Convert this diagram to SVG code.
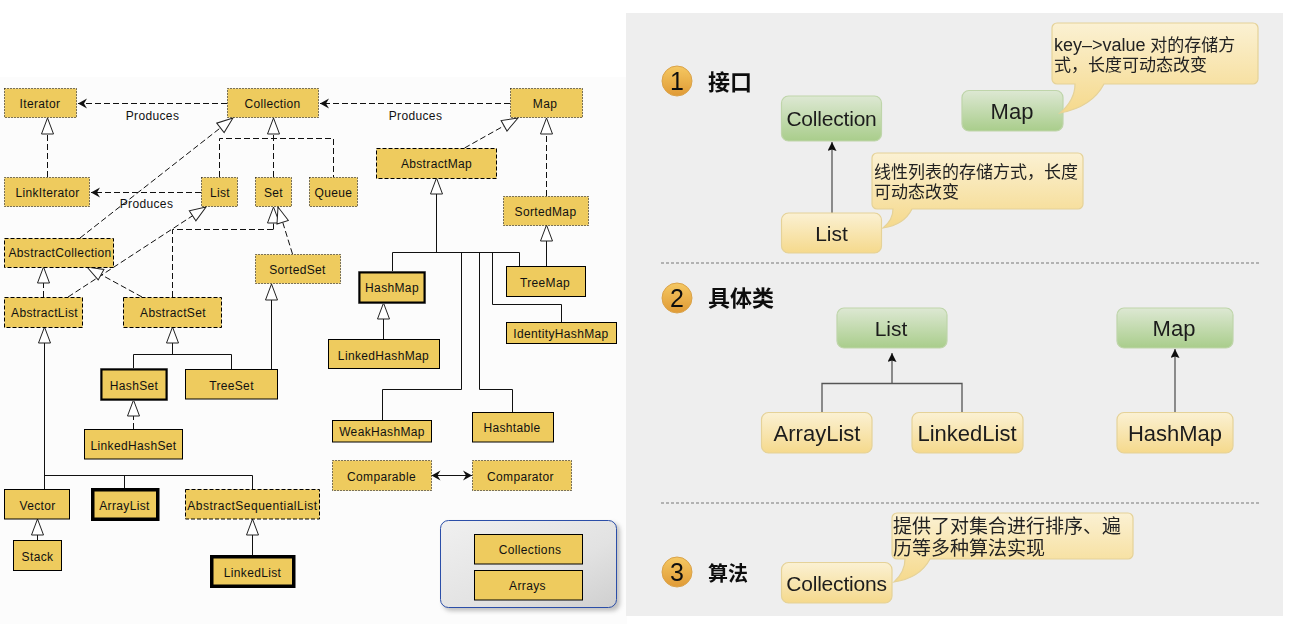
<svg xmlns="http://www.w3.org/2000/svg" width="1294" height="624" viewBox="0 0 1294 624">
<style>
.n{fill:#eecb5e;stroke:#000;stroke-width:1}
.dot{stroke-dasharray:1 2}
.dash{stroke-dasharray:4 2}
.thick2{stroke-width:2}
.thick3{stroke-width:3.5}
.t{font-family:"Liberation Sans",Arial,sans-serif;font-size:12px;letter-spacing:.35px;text-anchor:middle;dominant-baseline:central;fill:#111;transform:translateY(.5px)}
.l{fill:none;stroke:#111;stroke-width:1}
.d{stroke-dasharray:6 3}
.tri{marker-end:url(#tri)}
.open{marker-end:url(#open)}
.g{fill:url(#green);stroke:#bfd5aa;stroke-width:1.2}
.y{fill:url(#yellow);stroke:#e5d298;stroke-width:1.2}
.T{font-family:"Liberation Sans","Noto Sans CJK SC",sans-serif;font-size:21px;text-anchor:middle;dominant-baseline:central;fill:#1c1c1c}
.c{font-family:"Liberation Sans","Noto Sans CJK SC",sans-serif;font-size:17px;dominant-baseline:central;fill:#222}
.h{font-family:"Noto Sans CJK SC",sans-serif;font-size:22px;font-weight:700;dominant-baseline:central;fill:#111}
.num{font-family:"Liberation Sans",sans-serif;font-size:25px;text-anchor:middle;dominant-baseline:central;fill:#111}
.r{fill:none;stroke:#555;stroke-width:1.3}
.sep{stroke:#777;stroke-width:1;stroke-dasharray:3 2}
.circ{fill:url(#orange);stroke:#d9a24a;stroke-width:1}
</style>
<defs>
<marker id="tri" markerUnits="userSpaceOnUse" viewBox="-1 -1 18 14" markerWidth="18" markerHeight="14" refX="16" refY="6" orient="auto"><path d="M16,6 L0,0 L0,12 Z" fill="#fff" stroke="#222" stroke-width="1"/></marker>
<marker id="open" markerUnits="userSpaceOnUse" viewBox="-1 -1 11 12" markerWidth="11" markerHeight="12" refX="9" refY="5" orient="auto-start-reverse"><path d="M9,5 L0,0 L3,5 L0,10 Z" fill="#111"/></marker>
<marker id="small" markerUnits="userSpaceOnUse" viewBox="0 0 9 10" markerWidth="9" markerHeight="10" refX="9" refY="4.5" orient="auto"><path d="M9,4.5 L0,0 L1.5,4.5 L0,9 Z" fill="#111"/></marker>
<linearGradient id="green" x1="0" y1="0" x2="0" y2="1"><stop offset="0" stop-color="#dde8d3"/><stop offset="1" stop-color="#a9cd8b"/></linearGradient>
<linearGradient id="yellow" x1="0" y1="0" x2="0" y2="1"><stop offset="0" stop-color="#fbf1d3"/><stop offset="1" stop-color="#f5d98c"/></linearGradient>
<linearGradient id="orange" x1="0" y1="0" x2="0" y2="1"><stop offset="0" stop-color="#f5c862"/><stop offset="1" stop-color="#e09a35"/></linearGradient>
<linearGradient id="pan" x1="0" y1="0" x2="1" y2="1"><stop offset="0" stop-color="#f0f0f0"/><stop offset=".6" stop-color="#e2e2e2"/><stop offset="1" stop-color="#cfcfcf"/></linearGradient>
<filter id="soft" x="-5%" y="-5%" width="110%" height="110%"><feGaussianBlur stdDeviation="0.45"/></filter>
<filter id="sh" x="-10%" y="-10%" width="120%" height="120%"><feGaussianBlur stdDeviation="2"/></filter>
</defs>
<rect width="1294" height="624" fill="#fff"/>
<rect x="0" y="77" width="627" height="547" fill="#fcfcfc"/>
<rect x="626" y="13" width="657" height="603" fill="#eeeeee"/>

<g id="group-panel">
<rect x="443" y="523" width="177" height="88" rx="8" fill="#999" opacity=".6" filter="url(#sh)"/>
<rect x="440.500" y="520.500" width="176" height="87" rx="8" fill="url(#pan)" stroke="#2b4ea8" stroke-width="1"/>
</g>

<g id="connectors">
<path class="l d open" d="M227,103.500H78"/>
<path class="l d open" d="M510,103.500H320"/>
<path class="l d open" d="M201,192.500H91"/>
<path class="l d tri" d="M47.500,177V118"/>
<path class="l d tri" d="M80,238L233,118"/>
<path class="l d" d="M219.500,177V138.500H333.500V177"/>
<path class="l d tri" d="M273.500,177V118"/>
<path class="l d tri" d="M68,297L206,207"/>
<path class="l d" d="M172.500,297V229.500H273.500"/>
<path class="l d tri" d="M273.500,229.500V207"/>
<path class="l d tri" d="M292.500,254L278,207"/>
<path class="l d tri" d="M142,297L87,267"/>
<path class="l d tri" d="M43.500,297V267"/>
<path class="l tri" d="M44.500,489V327"/>
<path class="l" d="M44.500,475.500H252.500V489M124.500,475.500V489"/>
<path class="l tri" d="M172.500,354.500V327"/>
<path class="l" d="M133.500,369V354.500H231.500V369"/>
<path class="l tri" d="M271.500,369V284"/>
<path class="l d tri" d="M133.500,429V400"/>
<path class="l tri" d="M37.500,540V519"/>
<path class="l tri" d="M252.500,556V519"/>
<path class="l d tri" d="M464.500,148L518,118"/>
<path class="l d tri" d="M546.500,196V118"/>
<path class="l tri" d="M546.500,266V225"/>
<path class="l tri" d="M436.500,252.500V178"/>
<path class="l" d="M392.500,272V252.500H519.500V266"/>
<path class="l" d="M461.500,252.500V389.500H382.500V420"/>
<path class="l" d="M479.500,252.500V389.500H512.500V412"/>
<path class="l" d="M492.500,252.500V304.500H561.500V322"/>
<path class="l tri" d="M383.500,339V303"/>
<path d="M431.500,475.500H472" fill="none" stroke="#111" stroke-width="1" marker-start="url(#open)" marker-end="url(#open)"/>
</g>
<text class="t" x="152.500" y="115">Produces</text>
<text class="t" x="415.500" y="115">Produces</text>
<text class="t" x="146.500" y="203.500">Produces</text>

<g id="Iterator"><rect class="n dot" x="4.500" y="88.500" width="72" height="29"/><text class="t" x="40" y="103">Iterator</text></g>
<g id="Collection"><rect class="n dot" x="227.500" y="88.500" width="91" height="29"/><text class="t" x="272.500" y="103">Collection</text></g>
<g id="Map"><rect class="n dot" x="510.500" y="88.500" width="72" height="29"/><text class="t" x="545" y="103">Map</text></g>
<g id="LinkIterator"><rect class="n dot" x="4.500" y="177.500" width="85" height="29"/><text class="t" x="47.500" y="192">LinkIterator</text></g>
<g id="List"><rect class="n dot" x="201.500" y="177.500" width="36" height="29"/><text class="t" x="220" y="192">List</text></g>
<g id="Set"><rect class="n dot" x="255.500" y="177.500" width="36" height="29"/><text class="t" x="273.500" y="192">Set</text></g>
<g id="Queue"><rect class="n dot" x="309.500" y="177.500" width="48" height="29"/><text class="t" x="333.500" y="192">Queue</text></g>
<g id="AbstractCollection"><rect class="n dash" x="4.500" y="238.500" width="109" height="29"/><text class="t" x="60" y="252.500">AbstractCollection</text></g>
<g id="AbstractList"><rect class="n dash" x="4.500" y="297.500" width="78" height="30"/><text class="t" x="44.500" y="312">AbstractList</text></g>
<g id="AbstractSet"><rect class="n dash" x="123.500" y="297.500" width="98" height="30"/><text class="t" x="173" y="312">AbstractSet</text></g>
<g id="SortedSet"><rect class="n dot" x="255.500" y="254.500" width="85" height="29"/><text class="t" x="297.500" y="269">SortedSet</text></g>
<g id="AbstractMap"><rect class="n dash" x="376.500" y="148.500" width="120" height="30"/><text class="t" x="436.500" y="163">AbstractMap</text></g>
<g id="SortedMap"><rect class="n dot" x="503.500" y="196.500" width="85" height="29"/><text class="t" x="545.500" y="211">SortedMap</text></g>
<g id="TreeMap"><rect class="n" x="506.500" y="266.500" width="79" height="30"/><text class="t" x="545" y="282">TreeMap</text></g>
<g id="HashMap"><rect x="358.500" y="271.500" width="67" height="32" fill="none" stroke="#999" stroke-width="1"/><rect class="n thick2" x="359.500" y="272.500" width="65" height="30"/><text class="t" x="392" y="287.500">HashMap</text></g>
<g id="IdentityHashMap"><rect class="n" x="506.500" y="322.500" width="110" height="21"/><text class="t" x="561" y="333">IdentityHashMap</text></g>
<g id="LinkedHashMap"><rect class="n" x="328.500" y="339.500" width="111" height="29"/><text class="t" x="383.500" y="355">LinkedHashMap</text></g>
<g id="HashSet"><rect x="100.500" y="368.500" width="67" height="32" fill="none" stroke="#999" stroke-width="1"/><rect class="n thick2" x="101.500" y="369.500" width="65" height="30"/><text class="t" x="134" y="385">HashSet</text></g>
<g id="TreeSet"><rect class="n" x="185.500" y="369.500" width="92" height="29.500"/><text class="t" x="231.500" y="385">TreeSet</text></g>
<g id="LinkedHashSet"><rect class="n" x="84.500" y="429.500" width="98" height="29.500"/><text class="t" x="133.500" y="445">LinkedHashSet</text></g>
<g id="Vector"><rect class="n" x="4.500" y="489.500" width="65" height="29.500"/><text class="t" x="37.500" y="505">Vector</text></g>
<g id="Stack"><rect class="n" x="13.500" y="540.500" width="48" height="30"/><text class="t" x="37.500" y="556">Stack</text></g>
<g id="ArrayList"><rect class="n thick3" x="92.750" y="489.750" width="65" height="29.500"/><text class="t" x="124.500" y="505">ArrayList</text></g>
<g id="AbstractSequentialList"><rect class="n dash" x="185.500" y="489.500" width="134" height="29.500"/><text class="t" x="252.500" y="505" style="letter-spacing:.5px">AbstractSequentialList</text></g>
<g id="LinkedList"><rect class="n thick3" x="211.750" y="556.750" width="82" height="29.500"/><text class="t" x="252.500" y="572">LinkedList</text></g>
<g id="WeakHashMap"><rect class="n" x="332.500" y="420.500" width="99" height="21.500"/><text class="t" x="382" y="431.500">WeakHashMap</text></g>
<g id="Hashtable"><rect class="n" x="472.500" y="412.500" width="81" height="29.500"/><text class="t" x="512" y="427">Hashtable</text></g>
<g id="Comparable"><rect class="n dot" x="332.500" y="460.500" width="99" height="30"/><text class="t" x="381.500" y="476">Comparable</text></g>
<g id="Comparator"><rect class="n dot" x="472.500" y="460.500" width="99" height="30"/><text class="t" x="520.500" y="476">Comparator</text></g>
<g id="Collections"><rect class="n" x="474.500" y="534.500" width="108" height="29.500"/><text class="t" x="530" y="549.500">Collections</text></g>
<g id="Arrays"><rect class="n" x="474.500" y="570.500" width="108" height="29.500"/><text class="t" x="527.500" y="585.500">Arrays</text></g>

<g id="right-panel" filter="url(#soft)">
<g id="connectors-right">
<path class="r" d="M832,213V142" marker-end="url(#small)"/>
<path class="r" d="M822,412V383.500H962V412M892,383.500V353" marker-end="url(#small)"/>
<path class="r" d="M1175,412V349" marker-end="url(#small)"/>
<path class="sep" d="M661,263H1260"/>
<path class="sep" d="M661,503H1260"/>
</g>
<g id="head1"><circle class="circ" cx="677" cy="81" r="15"/><text class="num" x="677" y="81">1</text><text class="h" x="708" y="80">接口</text></g>
<g id="head2"><circle class="circ" cx="677" cy="298" r="15"/><text class="num" x="677" y="298">2</text><text class="h" x="708" y="296">具体类</text></g>
<g id="head3"><circle class="circ" cx="677" cy="572" r="15"/><text class="num" x="677" y="572">3</text><text class="h" x="708" y="572" style="font-size:20px">算法</text></g>
<g id="r-Collection"><rect class="g" x="781.500" y="96" width="100" height="45" rx="7"/><text class="T" x="831.500" y="118.500" style="letter-spacing:-.2px">Collection</text></g>
<g id="r-List"><rect class="y" x="781.500" y="213" width="100" height="40" rx="7"/><text class="T" x="831.500" y="233">List</text></g>
<g id="r-Map"><rect class="g" x="962" y="90.500" width="101" height="40.500" rx="7"/><text class="T" x="1012" y="111" style="font-size:22px">Map</text></g>
<g id="r-List2"><rect class="g" x="837" y="308" width="110" height="40" rx="7"/><text class="T" x="891" y="328">List</text></g>
<g id="r-Map2"><rect class="g" x="1117" y="308" width="116" height="40" rx="7"/><text class="T" x="1174" y="328" style="font-size:22px">Map</text></g>
<g id="r-ArrayList"><rect class="y" x="761.500" y="412.500" width="110.500" height="40.500" rx="7"/><text class="T" x="817" y="433" style="font-size:22px">ArrayList</text></g>
<g id="r-LinkedList"><rect class="y" x="912" y="412.500" width="111" height="40.500" rx="7"/><text class="T" x="967" y="433" style="font-size:22px">LinkedList</text></g>
<g id="r-HashMap"><rect class="y" x="1117" y="412.500" width="116" height="40.500" rx="7"/><text class="T" x="1175" y="433" style="font-size:22px">HashMap</text></g>
<g id="r-Collections"><rect class="y" x="781.500" y="562.500" width="110.500" height="40.500" rx="7"/><text class="T" x="836.500" y="583" style="letter-spacing:-.2px">Collections</text></g>
<g id="callout-list"><path class="y" d="M877,153H1078a5,5 0 0 1 5,5V204a5,5 0 0 1 -5,5H912Q904,225 883,228Q893,220 893,209H877a5,5 0 0 1 -5,-5V158a5,5 0 0 1 5,-5Z"/><text class="c" x="874" y="172">线性列表的存储方式，长度</text><text class="c" x="874" y="192">可动态改变</text></g>
<g id="callout-map"><path class="y" d="M1057,23H1253a5,5 0 0 1 5,5V79a5,5 0 0 1 -5,5H1104Q1092,107 1060,113Q1075,100 1075,84H1057a5,5 0 0 1 -5,-5V28a5,5 0 0 1 5,-5Z"/><text class="c" x="1054" y="45"><tspan style="font-size:18px">key–&gt;value</tspan> 对的存储方</text><text class="c" x="1054" y="65">式，长度可动态改变</text></g>
<g id="callout-collections"><path class="y" d="M897,513H1128a5,5 0 0 1 5,5V554a5,5 0 0 1 -5,5H930Q920,578 894,582Q905,572 905,559H897a5,5 0 0 1 -5,-5V518a5,5 0 0 1 5,-5Z"/><text class="c" x="893" y="526" style="font-size:19px">提供了对集合进行排序、遍</text><text class="c" x="893" y="548" style="font-size:19px">历等多种算法实现</text></g>
</g>
</svg>
